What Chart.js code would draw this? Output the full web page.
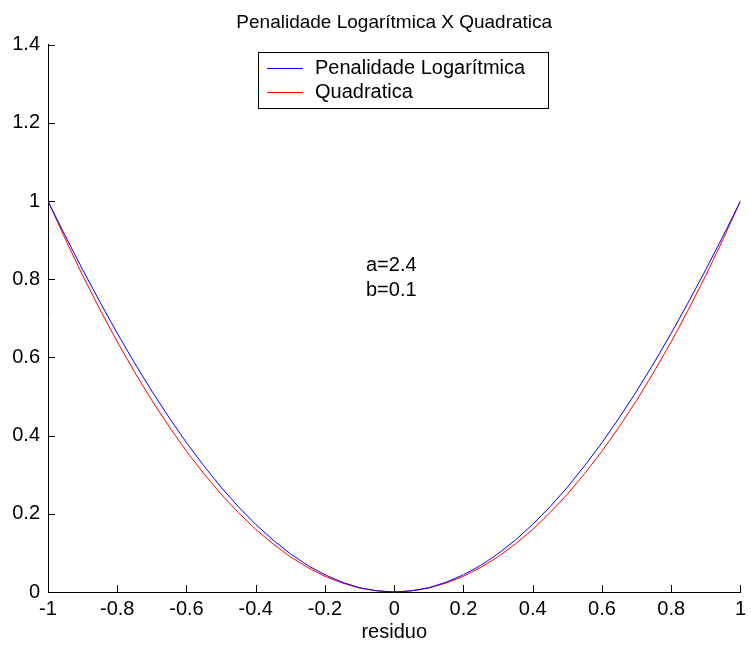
<!DOCTYPE html>
<html>
<head>
<meta charset="utf-8">
<script src="https://cdn.jsdelivr.net/npm/chart.js@4"></script>
<style>
  html, body { margin: 0; padding: 0; background: #fff; }
  #wrap { width: 751px; height: 649px; }
</style>
</head>
<body>
<div id="wrap"><canvas id="chart"></canvas></div>
<script>
// dados
const residuo = [-1, -0.95, -0.9, -0.85, -0.8, -0.75, -0.7, -0.65, -0.6, -0.55, -0.5,
  -0.45, -0.4, -0.35, -0.3, -0.25, -0.2, -0.15, -0.1, -0.05, 0,
  0.05, 0.1, 0.15, 0.2, 0.25, 0.3, 0.35, 0.4, 0.45, 0.5,
  0.55, 0.6, 0.65, 0.7, 0.75, 0.8, 0.85, 0.9, 0.95, 1];

const penalidadeLog = [1, 0.911, 0.825, 0.742, 0.662, 0.586, 0.514, 0.446, 0.382, 0.323, 0.268,
  0.218, 0.173, 0.133, 0.098, 0.068, 0.044, 0.025, 0.011, 0.003, 0,
  0.003, 0.011, 0.025, 0.044, 0.068, 0.098, 0.133, 0.173, 0.218, 0.268,
  0.323, 0.382, 0.446, 0.514, 0.586, 0.662, 0.742, 0.825, 0.911, 1];

const quadratica = [1, 0.903, 0.81, 0.723, 0.64, 0.563, 0.49, 0.423, 0.36, 0.303, 0.25,
  0.203, 0.16, 0.123, 0.09, 0.063, 0.04, 0.023, 0.01, 0.003, 0,
  0.003, 0.01, 0.023, 0.04, 0.063, 0.09, 0.123, 0.16, 0.203, 0.25,
  0.303, 0.36, 0.423, 0.49, 0.563, 0.64, 0.723, 0.81, 0.903, 1];

const seriesLabels = ['Penalidade Logarítmica', 'Quadratica'];
const seriesColors = ['#0000ff', '#ff0000'];
const notas = ['a=2.4', 'b=0.1'];

const FONT = "'Liberation Sans', Arial, sans-serif";

// rotulos estilo matlab: 1, -1, 0.2 ...
const fmt = v => String(Math.round(v * 10) / 10);

// ticks para dentro, legenda e texto (estilo matlab)
const extras = {
  id: 'extras',
  afterDraw(chart) {
    const { ctx, chartArea } = chart;
    const x = chart.scales.x;
    const y = chart.scales.y;
    ctx.save();
    ctx.strokeStyle = '#000';
    ctx.lineWidth = 1;
    ctx.beginPath();
    x.ticks.forEach(t => {
      const px = Math.round(x.getPixelForValue(t.value)) + 0.5;
      ctx.moveTo(px, chartArea.bottom);
      ctx.lineTo(px, chartArea.bottom - 7);
    });
    y.ticks.forEach(t => {
      const py = Math.round(y.getPixelForValue(t.value)) + 0.5;
      ctx.moveTo(chartArea.left, py);
      ctx.lineTo(chartArea.left + 7, py);
    });
    ctx.stroke();

    // legenda
    ctx.fillStyle = '#fff';
    ctx.fillRect(258, 52, 290, 56);
    ctx.strokeStyle = '#000';
    ctx.strokeRect(258.5, 52.5, 290, 56);
    ctx.font = '20px ' + FONT;
    ctx.textBaseline = 'middle';
    ctx.textAlign = 'left';
    seriesLabels.forEach((lab, i) => {
      const ly = 68.5 + i * 24;
      ctx.strokeStyle = seriesColors[i];
      ctx.beginPath();
      ctx.moveTo(267, ly);
      ctx.lineTo(303, ly);
      ctx.stroke();
      ctx.fillStyle = '#000';
      ctx.fillText(lab, 315, ly);
    });

    notas.forEach((t, i) => {
      ctx.fillText(t, 366, 265 + i * 25);
    });
    ctx.restore();
  }
};

new Chart(document.getElementById('chart'), {
  type: 'line',
  data: {
    datasets: [
      {
        label: seriesLabels[0],
        data: residuo.map((r, i) => ({ x: r, y: penalidadeLog[i] })),
        borderColor: seriesColors[0],
        borderWidth: 1,
        pointRadius: 0,
        tension: 0
      },
      {
        label: seriesLabels[1],
        data: residuo.map((r, i) => ({ x: r, y: quadratica[i] })),
        borderColor: seriesColors[1],
        borderWidth: 1,
        pointRadius: 0,
        tension: 0
      }
    ]
  },
  options: {
    responsive: true,
    maintainAspectRatio: false,
    animation: false,
    layout: { padding: { top: 0, right: 9, bottom: 0, left: 0 } },
    plugins: {
      legend: { display: false },
      tooltip: { enabled: false },
      title: {
        display: true,
        text: 'Penalidade Logarítmica X Quadratica',
        fullSize: false,
        color: '#000',
        font: { family: FONT, size: 19, weight: 'normal' },
        padding: { top: 11, bottom: 11 }
      }
    },
    scales: {
      x: {
        type: 'linear',
        min: -1,
        max: 1,
        afterFit(scale) { scale.height = 57; },
        ticks: {
          stepSize: 0.2,
          color: '#000',
          padding: 5,
          maxRotation: 0,
          callback: fmt,
          font: { family: FONT, size: 20 }
        },
        grid: { display: false, drawTicks: false },
        border: { display: true, color: '#000', width: 1 },
        title: {
          display: true,
          text: 'residuo',
          color: '#000',
          font: { family: FONT, size: 20 },
          padding: { top: 0, bottom: 5 }
        }
      },
      y: {
        min: 0,
        max: 1.4,
        afterFit(scale) { scale.width = 48; },
        ticks: {
          stepSize: 0.2,
          color: '#000',
          padding: 8,
          callback: fmt,
          font: { family: FONT, size: 20 }
        },
        grid: { display: false, drawTicks: false },
        border: { display: true, color: '#000', width: 1 }
      }
    }
  },
  plugins: [extras]
});
</script>
</body>
</html>
